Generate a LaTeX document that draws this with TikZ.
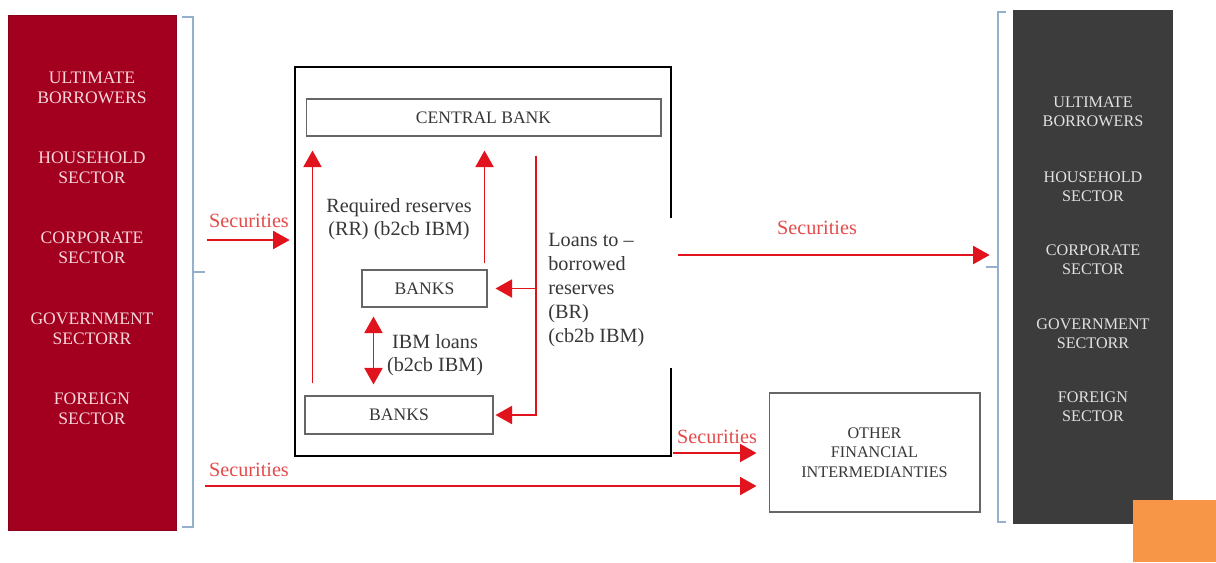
\documentclass[tikz,border=0pt]{standalone}
\usepackage{fontspec}
\setmainfont{Liberation Serif}
\newfontfamily\tnr{Liberation Serif}
\usetikzlibrary{arrows.meta,calc}
\definecolor{panelred}{RGB}{163,0,32}
\definecolor{paneldark}{RGB}{60,60,60}
\definecolor{arrred}{RGB}{225,20,30}
\definecolor{labred}{RGB}{228,75,75}
\definecolor{bracecol}{RGB}{150,175,205}
\definecolor{boxtext}{RGB}{55,55,55}
\definecolor{lpaneltext}{RGB}{245,215,218}
\definecolor{rpaneltext}{RGB}{225,225,225}
\definecolor{orangebox}{RGB}{247,150,70}
\begin{document}
\begin{tikzpicture}[x=0.02cm,y=-0.02cm,
 box/.style={draw=gray!80!black, line width=0.6pt, text=boxtext, font=\tnr\fontsize{10}{11.4}\selectfont, inner sep=0pt, align=center},
 rarr/.style={draw=arrred, line width=1.1pt, -{Triangle[length=0.33cm,width=0.36cm]}},
 darr/.style={draw=arrred, line width=1.1pt, {Triangle[length=0.33cm,width=0.36cm]}-{Triangle[length=0.33cm,width=0.36cm]}},
 lab/.style={text=labred, font=\tnr\fontsize{11.5}{13}\selectfont, inner sep=0pt},
 dtext/.style={text=boxtext, font=\tnr\fontsize{11.5}{13.2}\selectfont, inner sep=0pt, align=center},
 ltext/.style={text=lpaneltext, font=\tnr\fontsize{10}{11.4}\selectfont, align=center, inner sep=0pt},
 rtext/.style={text=rpaneltext, font=\tnr\fontsize{9.2}{10.8}\selectfont, align=center, inner sep=0pt},
 brace/.style={draw=bracecol, line width=0.8pt}
]
\useasboundingbox (0,0) rectangle (1216,562);
\fill[white] (0,0) rectangle (1216,562);

% left panel
\node[fill=panelred, draw=panelred!85!black, minimum width=3.36cm, minimum height=10.3cm, inner sep=0pt] (lpanel) at (92,272.5) {};
\node[ltext] (l1) at (92,87.5) {ULTIMATE\\BORROWERS};
\node[ltext] (l2) at (92,168) {HOUSEHOLD\\SECTOR};
\node[ltext] (l3) at (92,248) {CORPORATE\\SECTOR};
\node[ltext] (l4) at (92,329) {GOVERNMENT\\SECTORR};
\node[ltext] (l5) at (92,409) {FOREIGN\\SECTOR};

% right panel
\node[fill=paneldark, minimum width=3.2cm, minimum height=10.28cm, inner sep=0pt] (rpanel) at (1093,267) {};
\node[rtext] (r1) at (1093,112) {ULTIMATE\\BORROWERS};
\node[rtext] (r2) at (1093,187) {HOUSEHOLD\\SECTOR};
\node[rtext] (r3) at (1093,260) {CORPORATE\\SECTOR};
\node[rtext] (r4) at (1093,334) {GOVERNMENT\\SECTORR};
\node[rtext] (r5) at (1093,407) {FOREIGN\\SECTOR};

% braces
\draw[brace] (182,17) -- (193,17) -- (193,527) -- (182,527);
\draw[brace] (193,272) -- (205,272);
\draw[brace] (1006,12) -- (998,12) -- (998,522) -- (1006,522);
\draw[brace] (998,267) -- (986,267);

% big box (right side open in the middle)
\node[minimum width=7.52cm, minimum height=7.78cm, inner sep=0pt] (bigbox) at (483,261.5) {};
\draw[black, line width=1.2pt] (671,218) -- (671,67) -- (295,67) -- (295,456) -- (671,456) -- (671,368);

% inner boxes
\node[box, minimum width=7.1cm, minimum height=0.74cm] (cb) at (483.5,117.5) {CENTRAL BANK};
\node[box, minimum width=2.5cm, minimum height=0.74cm] (ub) at (424.5,288.5) {BANKS};
\node[box, minimum width=3.76cm, minimum height=0.76cm] (lb) at (399,415) {BANKS};
\node[box, minimum width=4.22cm, minimum height=2.38cm, font=\tnr\fontsize{9.2}{11}\selectfont] (ofi) at (874.5,452.5) {OTHER\\FINANCIAL\\INTERMEDIANTIES};

% arrows inside
\coordinate (a1) at ($(lb.north west)+(8,-12)$);
\draw[rarr, shorten >=0.28cm] (a1) -- (a1 |- cb.south);
\coordinate (a2) at ($(ub.north east)+(-3,-6)$);
\draw[rarr, shorten >=0.28cm] (a2) -- (a2 |- cb.south);
\coordinate (a3) at ($(cb.south)+(52.5,19)$);
\draw[rarr, shorten >=0.04cm] (a3) |- (lb.east);
\draw[rarr, shorten >=0.16cm] (a3 |- ub.east) -- (ub.east);
\coordinate (d1) at ($(ub.south west)+(12,0)$);
\draw[darr, shorten <=0.18cm, shorten >=0.22cm] (d1) -- (d1 |- lb.north);

% inner labels
\node[dtext] (rr) at (399,219) {Required reserves\\(RR) (b2cb IBM)};
\node[dtext] (ibm) at (435,355) {IBM loans\\(b2cb IBM)};
\node[dtext, align=left, anchor=west, font=\tnr\fontsize{11.5}{13.7}\selectfont] (br) at (548,290) {Loans to –\\borrowed\\reserves\\(BR)\\(cb2b IBM)};

% securities arrows
\coordinate (s1) at (207,240);
\draw[rarr, shorten >=0.1cm] (s1) -- (s1 -| bigbox.west);
\node[lab] (t1) at (249,221) {Securities};
\coordinate (s2) at (678,255);
\draw[rarr, shorten >=0.46cm] (s2) -- (s2 -| rpanel.west);
\node[lab] (t2) at (817,228) {Securities};
\coordinate (s3) at (673,453);
\draw[rarr, shorten >=0.24cm] (s3) -- (s3 -| ofi.west);
\node[lab] (t3) at (717,437) {Securities};
\coordinate (s4) at (205,486);
\draw[rarr, shorten >=0.24cm] (s4) -- (s4 -| ofi.west);
\node[lab] (t4) at (249,470) {Securities};

% orange corner box
\fill[orangebox] (1133,500) rectangle (1216,562);
\end{tikzpicture}
\end{document}
